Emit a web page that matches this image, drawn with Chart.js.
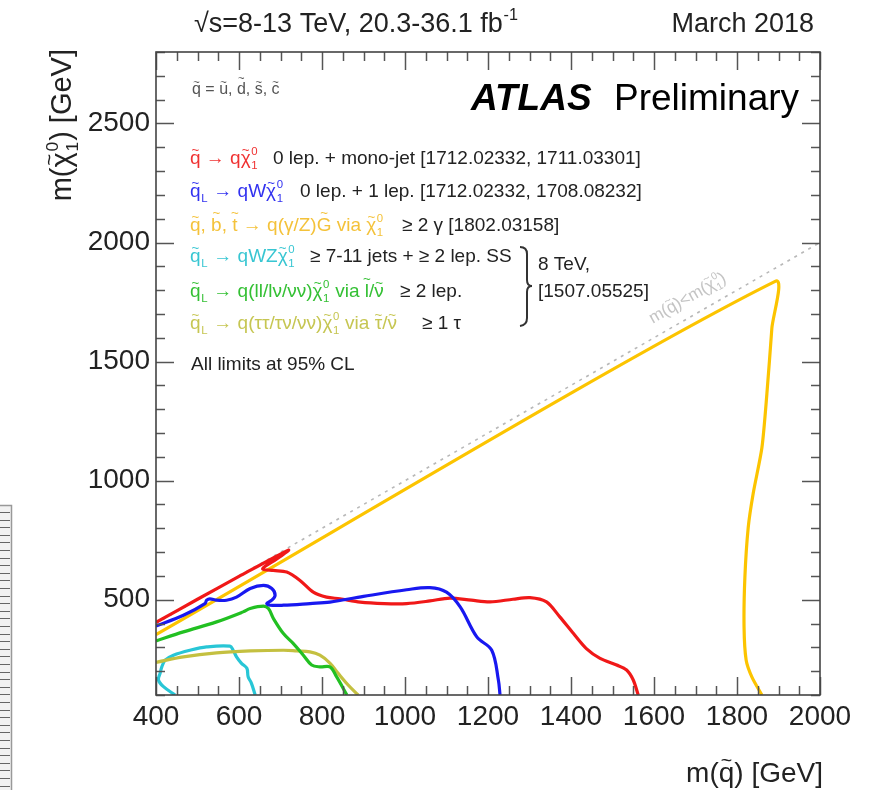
<!DOCTYPE html>
<html>
<head>
<meta charset="utf-8">
<script src="https://cdn.jsdelivr.net/npm/chart.js@4.4.1/dist/chart.umd.min.js"></script>
<style>
html,body{margin:0;padding:0;background:#fff;}
canvas{display:block;}
</style>
</head>
<body>
<canvas id="c" width="871" height="790"></canvas>
<script>
// ---------- data ----------
const xTicks = [400, 600, 800, 1000, 1200, 1400, 1600, 1800, 2000];
const yTicks = [500, 1000, 1500, 2000, 2500];

const diagX = [400, 2000];
const diagY = [400, 2000];

// q -> q chi (0 lep + mono-jet), red
const redX = [400, 500, 600, 719, 690, 657, 683, 715, 747, 779, 811, 843, 892, 950, 1004, 1060, 1108, 1160, 1205, 1260, 1301, 1341, 1373, 1406, 1437, 1470, 1510, 1534, 1550, 1562];
const redY = [405, 502, 598, 708, 670, 630, 623, 616, 581, 532, 511, 504, 490, 484, 484, 495, 507, 498, 491, 502, 509, 491, 428, 358, 295, 254, 226, 205, 163, 100];

// qL -> qW chi (0 lep + 1 lep), blue
const blueX = [400, 466, 518, 522, 530, 546, 570, 594, 627, 659, 679, 687, 679, 667, 675, 707, 771, 819, 900, 1004, 1060, 1100, 1133, 1173, 1209, 1225, 1229];
const blueY = [390, 435, 484, 498, 504, 498, 498, 511, 547, 560, 547, 519, 498, 484, 477, 477, 484, 490, 514, 542, 551, 532, 470, 344, 288, 163, 100];

// q, b, t -> q(gamma/Z)G via chi (>= 2 gamma), yellow
const yellowX = [400, 1892, 1884, 1872, 1860, 1839, 1827, 1819, 1817, 1822, 1836, 1860];
const yellowY = [354, 1837, 1640, 1364, 1138, 946, 803, 594, 385, 247, 175, 100];

// qL -> qWZ chi (7-11 jets + 2 lep SS), cyan
const cyanX = [446, 418, 406, 410, 414, 422, 442, 482, 522, 578, 586, 594, 606, 619, 622, 630, 639];
const cyanY = [100, 135, 163, 192, 218, 246, 267, 288, 302, 305, 288, 260, 233, 212, 177, 149, 100];

// qL -> q(ll/lv/vv) chi via slepton (>= 2 lep), green
const greenX = [400, 466, 546, 610, 627, 659, 671, 683, 707, 731, 755, 775, 795, 819, 835, 860];
const greenY = [327, 365, 407, 449, 463, 473, 463, 421, 358, 316, 267, 226, 218, 218, 177, 100];

// qL -> q(tautau/tauv/vv) chi via stau (>= 1 tau), olive
const oliveX = [400, 466, 546, 627, 707, 739, 771, 795, 819, 839, 863, 887];
const oliveY = [237, 260, 277, 285, 288, 285, 281, 267, 234, 191, 142, 100];

const xMinorStep = 50, xMajorStep = 200;
const yMinorStep = 100, yMajorStep = 500;

// ---------- helpers ----------
const FONT = "'Liberation Sans', Arial, Helvetica, sans-serif";
const pts = (xs, ys) => xs.map((x, i) => ({x: x, y: ys[i]}));

function fontStr(size, style) { return (style || '') + ' ' + size + 'px ' + FONT; }

function richWidth(ctx, parts, size, style) {
  let w = 0;
  for (const p of parts) {
    if (typeof p === 'string') { ctx.font = fontStr(size, style); w += ctx.measureText(p).width; }
    else if (p.tl !== undefined) { ctx.font = fontStr(size, style); w += ctx.measureText(p.tl).width; }
    else {
      ctx.font = fontStr(size * 0.6, style);
      const a = p.sup ? ctx.measureText(p.sup).width : 0;
      const b = p.sub ? ctx.measureText(p.sub).width : 0;
      w += Math.max(a, b) + size * 0.06;
    }
  }
  return w;
}

function drawRich(ctx, x, y, parts, size, color, style) {
  ctx.save();
  ctx.fillStyle = color;
  ctx.textBaseline = 'alphabetic';
  ctx.textAlign = 'left';
  let cx = x;
  for (const p of parts) {
    if (typeof p === 'string') {
      ctx.font = fontStr(size, style);
      ctx.fillText(p, cx, y);
      cx += ctx.measureText(p).width;
    } else if (p.tl !== undefined) {
      ctx.font = fontStr(size, style);
      const w = ctx.measureText(p.tl).width;
      ctx.fillText(p.tl, cx, y);
      const tall = /[bdtlhkGABCDEFHIJKLMNOPQRSTUVWXYZ]/.test(p.tl);
      ctx.font = fontStr(size * 0.7, style);
      const tw = ctx.measureText('~').width;
      ctx.fillText('~', cx + w / 2 - tw / 2, y - size * (tall ? 0.74 : 0.52));
      cx += w;
    } else {
      ctx.font = fontStr(size * 0.6, style);
      const a = p.sup ? ctx.measureText(p.sup).width : 0;
      const b = p.sub ? ctx.measureText(p.sub).width : 0;
      if (p.sup) ctx.fillText(p.sup, cx + size * 0.03, y - size * 0.45);
      if (p.sub) ctx.fillText(p.sub, cx + size * 0.03, y + size * 0.24);
      cx += Math.max(a, b) + size * 0.06;
    }
  }
  ctx.restore();
  return cx;
}

const Q = {tl: 'q'};
const CHI = {tl: 'χ'};
const S01 = {sup: '0', sub: '1'};
const SL = {sub: 'L'};

const rows = [
  {parts: [Q, ' → q', CHI, S01], color: '#f03232', desc: '0 lep. + mono-jet [1712.02332, 1711.03301]', dx: 273, base: 164},
  {parts: [Q, SL, ' → qW', CHI, S01], color: '#3232f0', desc: '0 lep. + 1 lep. [1712.02332, 1708.08232]', dx: 300, base: 197},
  {parts: [Q, ', ', {tl: 'b'}, ', ', {tl: 't'}, ' → q(γ/Z)', {tl: 'G'}, ' via ', CHI, S01], color: '#f4c23a', desc: '≥ 2 γ [1802.03158]', dx: 402, base: 231},
  {parts: [Q, SL, ' → qWZ', CHI, S01], color: '#38c6d2', desc: '≥ 7-11 jets + ≥ 2 lep. SS', dx: 310, base: 262},
  {parts: [Q, SL, ' → q(ll/lν/νν)', CHI, S01, ' via ', {tl: 'l'}, '/', {tl: 'ν'}], color: '#34c034', desc: '≥ 2 lep.', dx: 400, base: 297},
  {parts: [Q, SL, ' → q(ττ/τν/νν)', CHI, S01, ' via ', {tl: 'τ'}, '/', {tl: 'ν'}], color: '#c6c652', desc: '≥ 1 τ', dx: 422, base: 329}
];

const decor = {
  id: 'decor',
  afterDatasetsDraw(chart) {
    const ctx = chart.ctx, a = chart.chartArea, xs = chart.scales.x, ys = chart.scales.y;
    ctx.save();
    ctx.strokeStyle = '#555';
    ctx.lineWidth = 1.5;
    const seg = (x1, y1, x2, y2) => { ctx.beginPath(); ctx.moveTo(x1, y1); ctx.lineTo(x2, y2); ctx.stroke(); };
    for (let v = xs.min; v <= xs.max; v += xMinorStep) {
      const px = Math.round(xs.getPixelForValue(v)) + 0.5;
      const len = (v % xMajorStep === 0) ? 18 : 9;
      seg(px, a.bottom, px, a.bottom - len);
      seg(px, a.top, px, a.top + len);
    }
    for (let v = ys.min; v <= ys.max; v += yMinorStep) {
      const py = Math.round(ys.getPixelForValue(v)) + 0.5;
      const len = (v % yMajorStep === 0) ? 18 : 9;
      seg(a.left, py, a.left + len, py);
      seg(a.right, py, a.right - len, py);
    }
    ctx.strokeStyle = '#444';
    ctx.lineWidth = 1.6;
    ctx.strokeRect(a.left, a.top, a.right - a.left, a.bottom - a.top);
    ctx.restore();
  },
  afterDraw(chart) {
    const ctx = chart.ctx;
    ctx.save();
    // header
    drawRich(ctx, 194, 32, ['√s=8-13 TeV, 20.3-36.1 fb', {sup: '-1'}], 27, '#222');
    ctx.font = fontStr(27); ctx.fillStyle = '#222'; ctx.textAlign = 'right'; ctx.textBaseline = 'alphabetic';
    ctx.fillText('March 2018', 814, 32);
    // ATLAS Preliminary
    ctx.textAlign = 'left';
    ctx.font = fontStr(37, 'italic bold'); ctx.fillStyle = '#000';
    ctx.fillText('ATLAS', 471, 110);
    ctx.font = fontStr(37);
    ctx.fillText('Preliminary', 614, 110);
    // squark definition
    drawRich(ctx, 192, 94, [Q, ' = ', {tl: 'u'}, ', ', {tl: 'd'}, ', ', {tl: 's'}, ', ', {tl: 'c'}], 16, '#555');
    // legend rows
    for (const r of rows) {
      drawRich(ctx, 190, r.base, r.parts, 19, r.color);
      drawRich(ctx, r.dx, r.base, [r.desc], 19, '#222');
    }
    drawRich(ctx, 538, 270, ['8 TeV,'], 19, '#222');
    drawRich(ctx, 538, 297, ['[1507.05525]'], 19, '#222');
    drawRich(ctx, 191, 370, ['All limits at 95% CL'], 19, '#222');
    // bracket
    ctx.strokeStyle = '#333'; ctx.lineWidth = 2;
    ctx.beginPath();
    ctx.moveTo(520, 247);
    ctx.quadraticCurveTo(527, 247, 527, 254);
    ctx.lineTo(527, 280);
    ctx.quadraticCurveTo(527, 286, 532, 286);
    ctx.quadraticCurveTo(527, 286, 527, 292);
    ctx.lineTo(527, 318);
    ctx.quadraticCurveTo(527, 325, 520, 326);
    ctx.stroke();
    // diagonal label
    const dl = ['m(', Q, ')<m(', CHI, S01, ')'];
    ctx.save();
    ctx.translate(688, 299);
    ctx.rotate(-Math.atan2(chart.scales.y.getPixelForValue(1000) - chart.scales.y.getPixelForValue(2000),
                           chart.scales.x.getPixelForValue(2000) - chart.scales.x.getPixelForValue(1000)));
    const dw = richWidth(ctx, dl, 17);
    drawRich(ctx, -dw / 2, 4, dl, 17, '#c4c4c4');
    ctx.restore();
    // axis titles
    const xt = ['m(', Q, ') [GeV]'];
    const xw = richWidth(ctx, xt, 28);
    drawRich(ctx, 823 - xw, 782, xt, 28, '#222');
    const yt = ['m(', CHI, S01, ') [GeV]'];
    const yw = richWidth(ctx, yt, 29);
    ctx.save();
    ctx.translate(71, 49);
    ctx.rotate(-Math.PI / 2);
    drawRich(ctx, -yw, 0, yt, 29, '#222');
    ctx.restore();
    // cropped ruler fragment at the left edge of the picture
    ctx.fillStyle = '#f2f2f2';
    ctx.fillRect(0, 505, 12, 285);
    ctx.strokeStyle = '#999'; ctx.lineWidth = 1.5;
    ctx.strokeRect(-1, 505.5, 12.5, 290);
    ctx.strokeStyle = '#666'; ctx.lineWidth = 1;
    for (let yy = 512; yy < 790; yy += 7.6) {
      ctx.beginPath(); ctx.moveTo(0, Math.round(yy) + 0.5); ctx.lineTo(10, Math.round(yy) + 0.5); ctx.stroke();
    }
    ctx.restore();
  }
};

const line = (xs, ys, color, width, tension, extra) => Object.assign({
  data: pts(xs, ys), showLine: true, borderColor: color, backgroundColor: color,
  borderWidth: width, pointRadius: 0, tension: tension, fill: false
}, extra || {});

new Chart(document.getElementById('c'), {
  type: 'scatter',
  data: {
    datasets: [
      line(blueX, blueY, '#1818f0', 3.2, 0.35),
      line(redX, redY, '#f01818', 3.2, 0.3),
      line(greenX, greenY, '#22c022', 3.2, 0.35),
      line(oliveX, oliveY, '#c4c040', 3.2, 0.35),
      line(cyanX, cyanY, '#28c6d6', 3.2, 0.35),
      line(yellowX, yellowY, '#fcc400', 3.2, 0.25),
      line(diagX, diagY, '#b8b8b8', 1.6, 0, {borderDash: [3, 5]})
    ]
  },
  options: {
    responsive: false,
    animation: false,
    devicePixelRatio: 1,
    layout: {padding: {top: 52, right: 51, left: 0, bottom: 0}},
    plugins: {legend: {display: false}, tooltip: {enabled: false}},
    scales: {
      x: {
        type: 'linear', min: 400, max: 2000,
        afterBuildTicks: s => { s.ticks = xTicks.map(v => ({value: v})); },
        afterFit: s => { s.height = 95; },
        grid: {display: false, drawTicks: false},
        border: {display: false},
        ticks: {font: {size: 28, family: FONT}, color: '#222', padding: 5, maxRotation: 0, autoSkip: false,
                callback: v => String(v)}
      },
      y: {
        type: 'linear', min: 100, max: 2800,
        afterBuildTicks: s => { s.ticks = yTicks.map(v => ({value: v})); },
        afterFit: s => { s.width = 156; },
        grid: {display: false, drawTicks: false},
        border: {display: false},
        ticks: {font: {size: 28, family: FONT}, color: '#222', padding: 6, autoSkip: false,
                callback: v => String(v)}
      }
    }
  },
  plugins: [decor]
});
</script>
</body>
</html>
